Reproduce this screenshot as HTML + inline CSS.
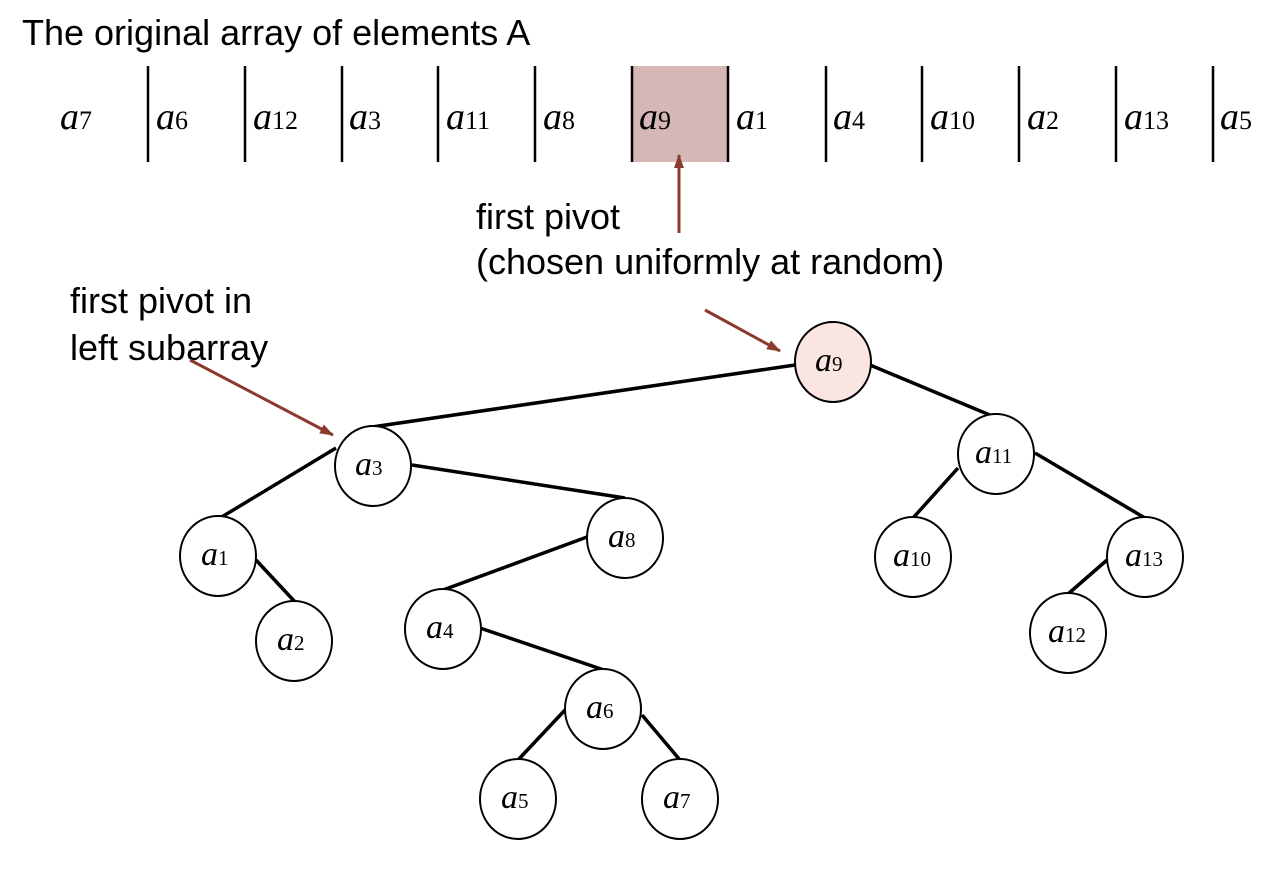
<!DOCTYPE html>
<html><head><style>
body{margin:0;background:#fff;width:1282px;height:867px;overflow:hidden}
</style></head><body>
<svg width="1282" height="867" xmlns="http://www.w3.org/2000/svg">
<defs><marker id="ah" markerWidth="14" markerHeight="10" refX="13" refY="5" orient="auto" markerUnits="userSpaceOnUse"><path d="M0,0 L14,5 L0,10 z" fill="#8b3a2e"/></marker></defs>
<g font-family="Liberation Sans, sans-serif" font-size="36" fill="#000">
<text x="22" y="45">The original array of elements A</text>
<text x="476" y="229">first pivot</text>
<text x="476" y="274">(chosen uniformly at random)</text>
<text x="70" y="313">first pivot in</text>
<text x="70" y="360">left subarray</text>
</g>
<rect x="632" y="66" width="96" height="96" fill="#d5b8b5"/>
<g stroke="#000" stroke-width="2.5">
<line x1="148" y1="66" x2="148" y2="162"/><line x1="245" y1="66" x2="245" y2="162"/><line x1="342" y1="66" x2="342" y2="162"/><line x1="438" y1="66" x2="438" y2="162"/><line x1="535" y1="66" x2="535" y2="162"/><line x1="632" y1="66" x2="632" y2="162"/><line x1="728" y1="66" x2="728" y2="162"/><line x1="826" y1="66" x2="826" y2="162"/><line x1="922" y1="66" x2="922" y2="162"/><line x1="1019" y1="66" x2="1019" y2="162"/><line x1="1116" y1="66" x2="1116" y2="162"/><line x1="1213" y1="66" x2="1213" y2="162"/>
</g>
<g font-family="Liberation Serif, serif" fill="#000">
<text x="60" y="129"><tspan font-style="italic" font-size="38">a</tspan><tspan font-size="26">7</tspan></text>
<text x="156" y="129"><tspan font-style="italic" font-size="38">a</tspan><tspan font-size="26">6</tspan></text>
<text x="253" y="129"><tspan font-style="italic" font-size="38">a</tspan><tspan font-size="26">12</tspan></text>
<text x="349" y="129"><tspan font-style="italic" font-size="38">a</tspan><tspan font-size="26">3</tspan></text>
<text x="446" y="129"><tspan font-style="italic" font-size="38">a</tspan><tspan font-size="26">11</tspan></text>
<text x="543" y="129"><tspan font-style="italic" font-size="38">a</tspan><tspan font-size="26">8</tspan></text>
<text x="639" y="129"><tspan font-style="italic" font-size="38">a</tspan><tspan font-size="26">9</tspan></text>
<text x="736" y="129"><tspan font-style="italic" font-size="38">a</tspan><tspan font-size="26">1</tspan></text>
<text x="833" y="129"><tspan font-style="italic" font-size="38">a</tspan><tspan font-size="26">4</tspan></text>
<text x="930" y="129"><tspan font-style="italic" font-size="38">a</tspan><tspan font-size="26">10</tspan></text>
<text x="1027" y="129"><tspan font-style="italic" font-size="38">a</tspan><tspan font-size="26">2</tspan></text>
<text x="1124" y="129"><tspan font-style="italic" font-size="38">a</tspan><tspan font-size="26">13</tspan></text>
<text x="1220" y="129"><tspan font-style="italic" font-size="38">a</tspan><tspan font-size="26">5</tspan></text>
</g>
<g stroke="#8b3a2e" stroke-width="3" marker-end="url(#ah)">
<line x1="679" y1="233" x2="679" y2="155"/>
<line x1="705" y1="310" x2="780" y2="351"/>
<line x1="190" y1="360" x2="333" y2="435"/>
</g>
<g stroke="#000" stroke-width="3.5">
<line x1="795" y1="365" x2="372" y2="427"/>
<line x1="870" y1="365" x2="997" y2="418"/>
<line x1="336" y1="448" x2="220" y2="518"/>
<line x1="412" y1="465" x2="625" y2="498"/>
<line x1="256" y1="560" x2="296" y2="603"/>
<line x1="587" y1="537" x2="443" y2="590"/>
<line x1="480" y1="628" x2="604" y2="670"/>
<line x1="565" y1="710" x2="518" y2="760"/>
<line x1="642" y1="715" x2="680" y2="760"/>
<line x1="958" y1="468" x2="913" y2="518"/>
<line x1="1035" y1="453" x2="1145" y2="518"/>
<line x1="1107" y1="560" x2="1068" y2="594"/>
</g>
<g stroke="#000" stroke-width="2" fill="#fff">
<ellipse cx="833" cy="362" rx="38" ry="40" fill="#fbe5e3"/>
<ellipse cx="373" cy="466" rx="38" ry="40"/>
<ellipse cx="996" cy="454" rx="38" ry="40"/>
<ellipse cx="218" cy="556" rx="38" ry="40"/>
<ellipse cx="294" cy="641" rx="38" ry="40"/>
<ellipse cx="625" cy="538" rx="38" ry="40"/>
<ellipse cx="443" cy="629" rx="38" ry="40"/>
<ellipse cx="603" cy="709" rx="38" ry="40"/>
<ellipse cx="518" cy="799" rx="38" ry="40"/>
<ellipse cx="680" cy="799" rx="38" ry="40"/>
<ellipse cx="913" cy="557" rx="38" ry="40"/>
<ellipse cx="1145" cy="557" rx="38" ry="40"/>
<ellipse cx="1068" cy="633" rx="38" ry="40"/>
</g>
<g font-family="Liberation Serif, serif" fill="#000">
<text x="815" y="371"><tspan font-style="italic" font-size="34">a</tspan><tspan font-size="21">9</tspan></text>
<text x="355" y="475"><tspan font-style="italic" font-size="34">a</tspan><tspan font-size="21">3</tspan></text>
<text x="975" y="463"><tspan font-style="italic" font-size="34">a</tspan><tspan font-size="21">11</tspan></text>
<text x="201" y="565"><tspan font-style="italic" font-size="34">a</tspan><tspan font-size="21">1</tspan></text>
<text x="277" y="650"><tspan font-style="italic" font-size="34">a</tspan><tspan font-size="21">2</tspan></text>
<text x="608" y="547"><tspan font-style="italic" font-size="34">a</tspan><tspan font-size="21">8</tspan></text>
<text x="426" y="638"><tspan font-style="italic" font-size="34">a</tspan><tspan font-size="21">4</tspan></text>
<text x="586" y="718"><tspan font-style="italic" font-size="34">a</tspan><tspan font-size="21">6</tspan></text>
<text x="501" y="808"><tspan font-style="italic" font-size="34">a</tspan><tspan font-size="21">5</tspan></text>
<text x="663" y="808"><tspan font-style="italic" font-size="34">a</tspan><tspan font-size="21">7</tspan></text>
<text x="893" y="566"><tspan font-style="italic" font-size="34">a</tspan><tspan font-size="21">10</tspan></text>
<text x="1125" y="566"><tspan font-style="italic" font-size="34">a</tspan><tspan font-size="21">13</tspan></text>
<text x="1048" y="642"><tspan font-style="italic" font-size="34">a</tspan><tspan font-size="21">12</tspan></text>
</g>
</svg>
</body></html>
